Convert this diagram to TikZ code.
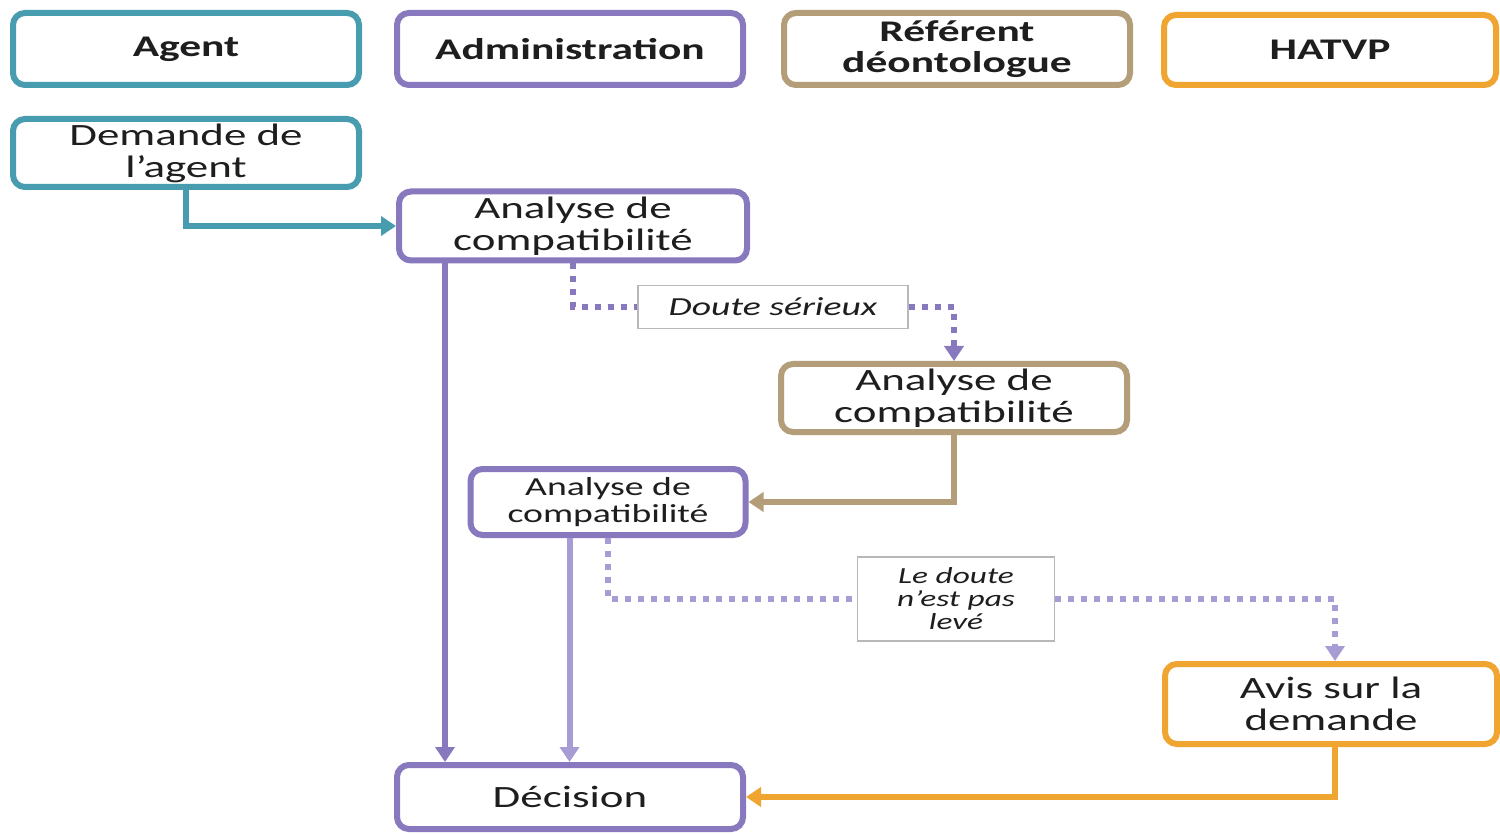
\documentclass[tikz,border=0pt]{standalone}
\usepackage{fontspec}
\setmainfont{Carlito}[FakeStretch=1.45]
\usetikzlibrary{arrows.meta}
\definecolor{cteal}{RGB}{72,156,176}
\definecolor{cpurple}{RGB}{136,120,190}
\definecolor{clpurple}{RGB}{168,156,212}
\definecolor{ctan}{RGB}{180,158,122}
\definecolor{corange}{RGB}{240,165,48}
\definecolor{ctext}{RGB}{30,30,30}
\begin{document}
\begin{tikzpicture}[x=0.5pt,y=-0.5pt,
  sz/.style n args={2}{minimum width=#1*0.5pt,minimum height=#2*0.5pt},
  box/.style={draw, line width=3pt, rounded corners=6pt, align=center, inner sep=0pt, fill=white, text=ctext, font=\fontsize{15.5}{16}\selectfont},
  hdr/.style={box, font=\fontsize{15}{15.5}\selectfont\bfseries},
  note/.style={draw=black!28, line width=0.6pt, fill=white, align=center, inner sep=0pt, text=ctext},
  tip/.style={-{Triangle[width=9.5pt,length=7.5pt]}},
  conn/.style={line width=3pt, tip},
  dots/.style={line width=3pt, dash pattern=on 3pt off 3.5pt, tip}
]
\useasboundingbox (0,0) rectangle (1500,834);
\fill[white] (0,0) rectangle (1500,834);

% headers
\node[hdr, draw=cteal, sz={346}{72}] (hagent) at (186,49) {Agent};
\node[hdr, draw=cpurple, sz={346}{72}] (hadmin) at (570,49) {Administration};
\node[hdr, draw=ctan, sz={346}{72}] (href) at (957,49) {Référent\\déontologue};
\node[hdr, draw=corange, sz={332}{70}] (hhatvp) at (1330,50) {HATVP};

% flow nodes
\node[box, draw=cteal, sz={346}{68}] (dem) at (186,153) {Demande de\\l’agent};
\node[box, draw=cpurple, sz={348}{69}] (an1) at (573,226) {Analyse de\\compatibilité};
\node[note, sz={270}{43}, font=\fontsize{13}{13.5}\selectfont\itshape] (doute) at (773,307) {Doute sérieux};
\node[box, draw=ctan, sz={346}{68}] (anr) at (954,398) {Analyse de\\compatibilité};
\node[box, draw=cpurple, sz={275}{66}, font=\fontsize{13}{13.5}\selectfont] (an2) at (608,502) {Analyse de\\compatibilité};
\node[note, sz={197}{84}, font=\fontsize{11.5}{11.5}\selectfont\itshape] (ldoute) at (956,599) {Le doute\\n’est pas\\levé};
\node[box, draw=corange, sz={332}{80}] (avis) at (1331,704) {Avis sur la\\demande};
\node[box, draw=cpurple, sz={346}{64}] (deci) at (570,797) {Décision};

% connectors
\draw[conn, cteal] (dem.south) |- (an1.west);
\draw[conn, cpurple] ([xshift=24.5pt]an1.south west) -- ([xshift=24.5pt]an1.south west |- deci.north);
\draw[conn, clpurple] ([xshift=51pt]an2.south west) -- ([xshift=51pt]an2.south west |- deci.north);
\draw[dots, cpurple, -] (an1.south) |- (doute.west);
\draw[dots, cpurple] (doute.east) -| (anr.north);
\draw[conn, ctan] (anr.south) |- (an2.east);
\draw[dots, clpurple, -] (an2.south) |- (ldoute.west);
\draw[dots, clpurple] (ldoute.east) -| ([xshift=2pt]avis.north);
\draw[conn, corange] ([xshift=2pt]avis.south) |- (deci.east);
\end{tikzpicture}
\end{document}
